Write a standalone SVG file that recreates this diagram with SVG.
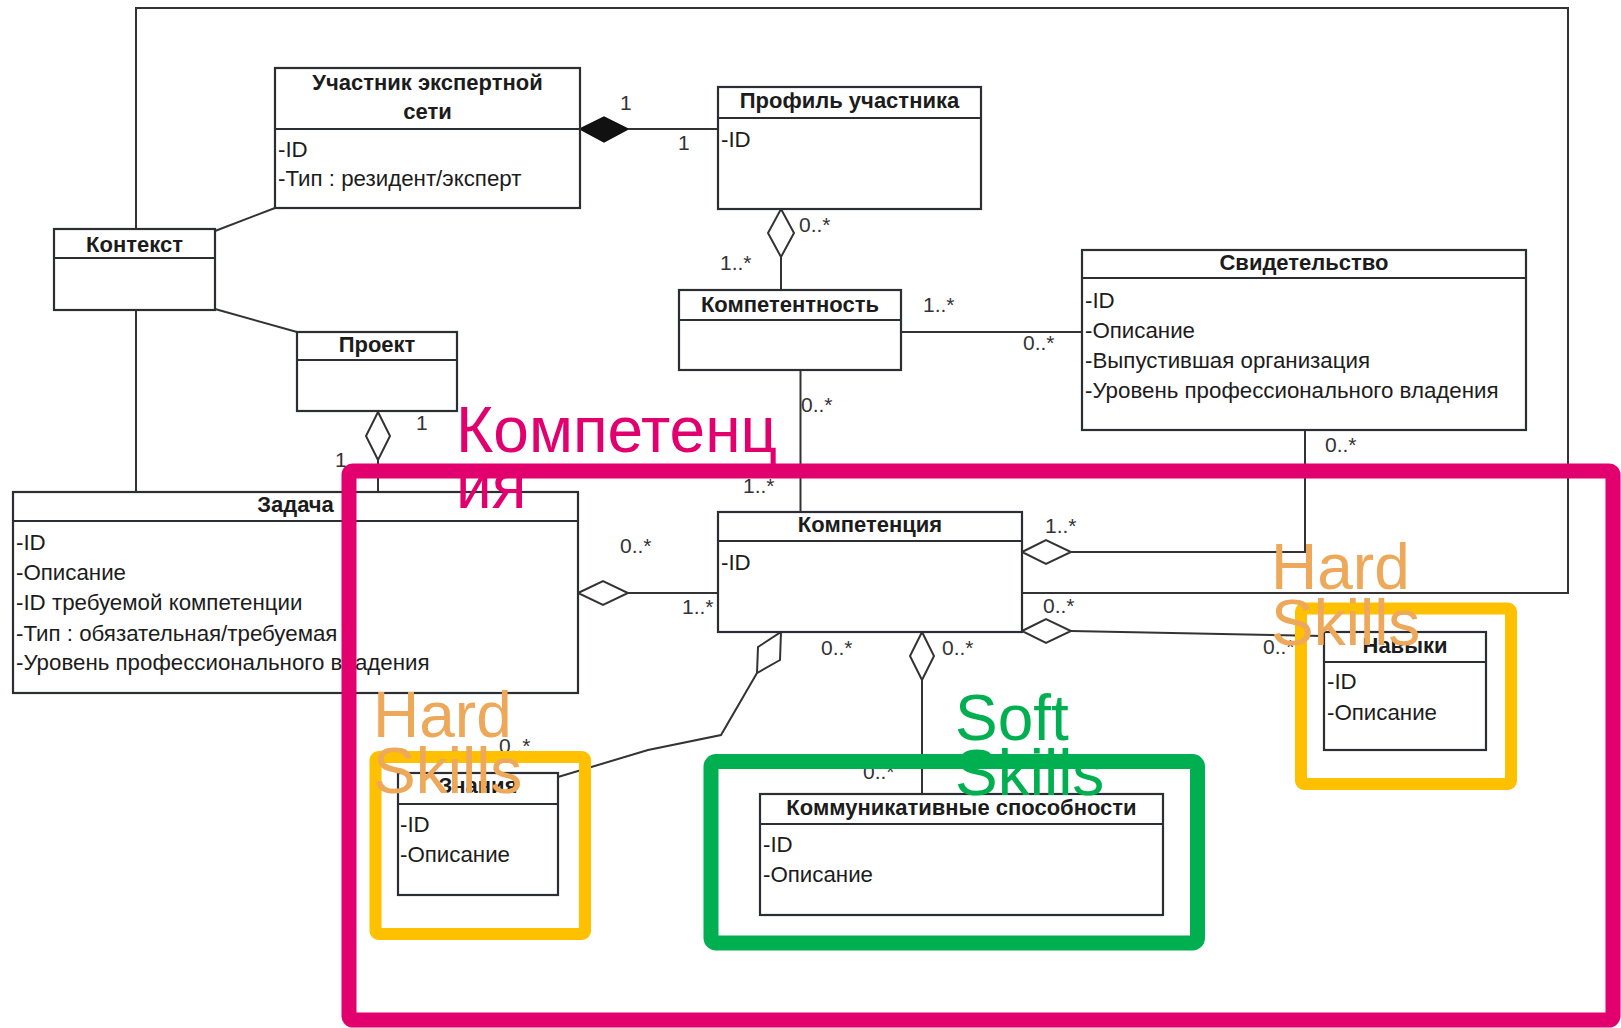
<svg xmlns="http://www.w3.org/2000/svg" width="1621" height="1028" viewBox="0 0 1621 1028">
<style>
.box{fill:#ffffff;stroke:#2b2f33;stroke-width:2.2}
.div{stroke:#2b2f33;stroke-width:2.2}
.hdr{font-family:"Liberation Sans",Arial,sans-serif;font-size:22px;font-weight:bold;fill:#1c1c1c;text-anchor:middle}
.att{font-family:"Liberation Sans",Arial,sans-serif;font-size:22.3px;fill:#1c1c1c}
.lbl{font-family:"Liberation Sans",Arial,sans-serif;font-size:21px;fill:#333}
.ln{fill:none;stroke:#333;stroke-width:2}
.dia{fill:#ffffff;stroke:#333;stroke-width:2}
.big{font-family:"Liberation Sans",Arial,sans-serif;font-size:64px}
</style>
<rect width="1621" height="1028" fill="#ffffff"/>

<g id="connectors">
  <polyline class="ln" points="136,229 136,8 1568,8 1568,593 1022,593"/>
  <line class="ln" x1="136" y1="310" x2="136" y2="492"/>
  <line class="ln" x1="215" y1="231" x2="275" y2="208"/>
  <line class="ln" x1="215" y1="309" x2="297" y2="332"/>
  <polygon points="580,129 604,117 628,129 604,142" fill="#111" stroke="#111" stroke-width="1.5"/>
  <line class="ln" x1="628" y1="129" x2="718" y2="129"/>
  <polygon class="dia" points="781,209 794,233 781,257 768,233"/>
  <line class="ln" x1="781" y1="257" x2="781" y2="290"/>
  <line class="ln" x1="901" y1="332" x2="1082" y2="332"/>
  <line class="ln" x1="800.5" y1="370" x2="800.5" y2="512"/>
  <polygon class="dia" points="378,412 390,436 378,460 366,436"/>
  <line class="ln" x1="378" y1="460" x2="378" y2="492"/>
  <polygon class="dia" points="578,593 603,581 628,593 603,605"/>
  <line class="ln" x1="628" y1="593" x2="718" y2="593"/>
  <polygon class="dia" points="1022,552 1046,540 1071,552 1046,564"/>
  <polyline class="ln" points="1071,552 1305,552 1305,430"/>
  <polygon class="dia" points="1022,631 1046,619 1071,631 1046,643"/>
  <line class="ln" x1="1071" y1="631" x2="1324" y2="636"/>
  <polygon class="dia" points="781,632 780,660 757,673 758,647"/>
  <polyline class="ln" points="757,673 721,735 648,750 558,777"/>
  <polygon class="dia" points="922,632 934,656 922,680 910,656"/>
  <line class="ln" x1="922" y1="680" x2="922" y2="794"/>
  <g id="labels">
    <text class="lbl" x="620" y="110">1</text>
    <text class="lbl" x="678" y="150">1</text>
    <text class="lbl" x="799" y="232">0..*</text>
    <text class="lbl" x="720" y="270">1..*</text>
    <text class="lbl" x="923" y="312">1..*</text>
    <text class="lbl" x="1023" y="350">0..*</text>
    <text class="lbl" x="801" y="412">0..*</text>
    <text class="lbl" x="743" y="493">1..*</text>
    <text class="lbl" x="416" y="430">1</text>
    <text class="lbl" x="335" y="467">1</text>
    <text class="lbl" x="620" y="553">0..*</text>
    <text class="lbl" x="682" y="614">1..*</text>
    <text class="lbl" x="1045" y="533">1..*</text>
    <text class="lbl" x="1043" y="613">0..*</text>
    <text class="lbl" x="1325" y="452">0..*</text>
    <text class="lbl" x="1263" y="654">0..*</text>
    <text class="lbl" x="821" y="655">0..*</text>
    <text class="lbl" x="942" y="655">0..*</text>
    <text class="lbl" x="499" y="753">0..*</text>
    <text class="lbl" x="863" y="779">0..*</text>
  </g>
</g>

<g id="uchastnik">
  <rect class="box" x="275" y="68" width="305" height="140"/>
  <line class="div" x1="275" y1="129" x2="580" y2="129"/>
  <text class="hdr" x="427.5" y="90">Участник экспертной</text>
  <text class="hdr" x="427.5" y="119">сети</text>
  <text class="att" x="278" y="157">-ID</text>
  <text class="att" x="278" y="186">-Тип : резидент/эксперт</text>
</g>

<g id="profil">
  <rect class="box" x="718" y="87" width="263" height="122"/>
  <line class="div" x1="718" y1="118" x2="981" y2="118"/>
  <text class="hdr" x="849.5" y="108">Профиль участника</text>
  <text class="att" x="721" y="147">-ID</text>
</g>

<g id="kontekst">
  <rect class="box" x="54" y="229" width="161" height="81"/>
  <line class="div" x1="54" y1="258" x2="215" y2="258"/>
  <text class="hdr" x="134.5" y="252">Контекст</text>
</g>

<g id="proekt">
  <rect class="box" x="297" y="332" width="160" height="79"/>
  <line class="div" x1="297" y1="360" x2="457" y2="360"/>
  <text class="hdr" x="377" y="352">Проект</text>
</g>

<g id="kompetentnost">
  <rect class="box" x="679" y="290" width="222" height="80"/>
  <line class="div" x1="679" y1="320" x2="901" y2="320"/>
  <text class="hdr" x="790" y="312">Компетентность</text>
</g>

<g id="svidetelstvo">
  <rect class="box" x="1082" y="250" width="444" height="180"/>
  <line class="div" x1="1082" y1="278" x2="1526" y2="278"/>
  <text class="hdr" x="1304" y="270">Свидетельство</text>
  <text class="att" x="1085" y="308">-ID</text>
  <text class="att" x="1085" y="338">-Описание</text>
  <text class="att" x="1085" y="368">-Выпустившая организация</text>
  <text class="att" x="1085" y="398">-Уровень профессионального владения</text>
</g>

<g id="zadacha">
  <rect class="box" x="13" y="492" width="565" height="201"/>
  <line class="div" x1="13" y1="521" x2="578" y2="521"/>
  <text class="hdr" x="295.5" y="512">Задача</text>
  <text class="att" x="16" y="550">-ID</text>
  <text class="att" x="16" y="580">-Описание</text>
  <text class="att" x="16" y="610">-ID требуемой компетенции</text>
  <text class="att" x="16" y="641">-Тип : обязательная/требуемая</text>
  <text class="att" x="16" y="670">-Уровень профессионального владения</text>
</g>

<g id="kompetenciya">
  <rect class="box" x="718" y="512" width="304" height="120"/>
  <line class="div" x1="718" y1="541" x2="1022" y2="541"/>
  <text class="hdr" x="870" y="532">Компетенция</text>
  <text class="att" x="721" y="570">-ID</text>
</g>

<g id="znaniya">
  <rect class="box" x="398" y="773" width="160" height="122"/>
  <line class="div" x1="398" y1="804" x2="558" y2="804"/>
  <text class="hdr" x="478" y="793">Знания</text>
  <text class="att" x="400" y="832">-ID</text>
  <text class="att" x="400" y="862">-Описание</text>
</g>

<g id="kommunikativnye">
  <rect class="box" x="760" y="794" width="403" height="121"/>
  <line class="div" x1="760" y1="824" x2="1163" y2="824"/>
  <text class="hdr" x="961.5" y="815">Коммуникативные способности</text>
  <text class="att" x="763" y="852">-ID</text>
  <text class="att" x="763" y="882">-Описание</text>
</g>

<g id="navyki">
  <rect class="box" x="1324" y="632" width="162" height="118"/>
  <line class="div" x1="1324" y1="662" x2="1486" y2="662"/>
  <text class="hdr" x="1405" y="653">Навыки</text>
  <text class="att" x="1327" y="689">-ID</text>
  <text class="att" x="1327" y="720">-Описание</text>
</g>

<g id="overlay-kompetenciya">
  <rect x="349" y="471" width="1264" height="549" rx="4" fill="none" stroke="#E2006F" stroke-width="15"/>
  <text class="big" x="456" y="452" fill="#E2006F">Компетенц</text>
  <text class="big" x="456" y="508" fill="#E2006F">ия</text>
</g>

<g id="overlay-hard-left">
  <rect x="375.5" y="757" width="209.5" height="177" rx="3" fill="none" stroke="#FFC000" stroke-width="12"/>
  <text class="big" x="373" y="737" fill="#EDA85A">Hard</text>
  <text class="big" x="373" y="793" fill="#EDA85A">Skills</text>
</g>

<g id="overlay-soft">
  <rect x="711" y="761.5" width="486.5" height="181.5" rx="5" fill="none" stroke="#00B050" stroke-width="15"/>
  <text class="big" x="955" y="740" fill="#00B050">Soft</text>
  <text class="big" x="955" y="795" fill="#00B050">Skills</text>
</g>

<g id="overlay-hard-right">
  <rect x="1301" y="608.5" width="210" height="175.5" rx="3" fill="none" stroke="#FFC000" stroke-width="12"/>
  <text class="big" x="1271" y="589" fill="#EDA85A">Hard</text>
  <text class="big" x="1271" y="645" fill="#EDA85A">Skills</text>
</g>
</svg>
